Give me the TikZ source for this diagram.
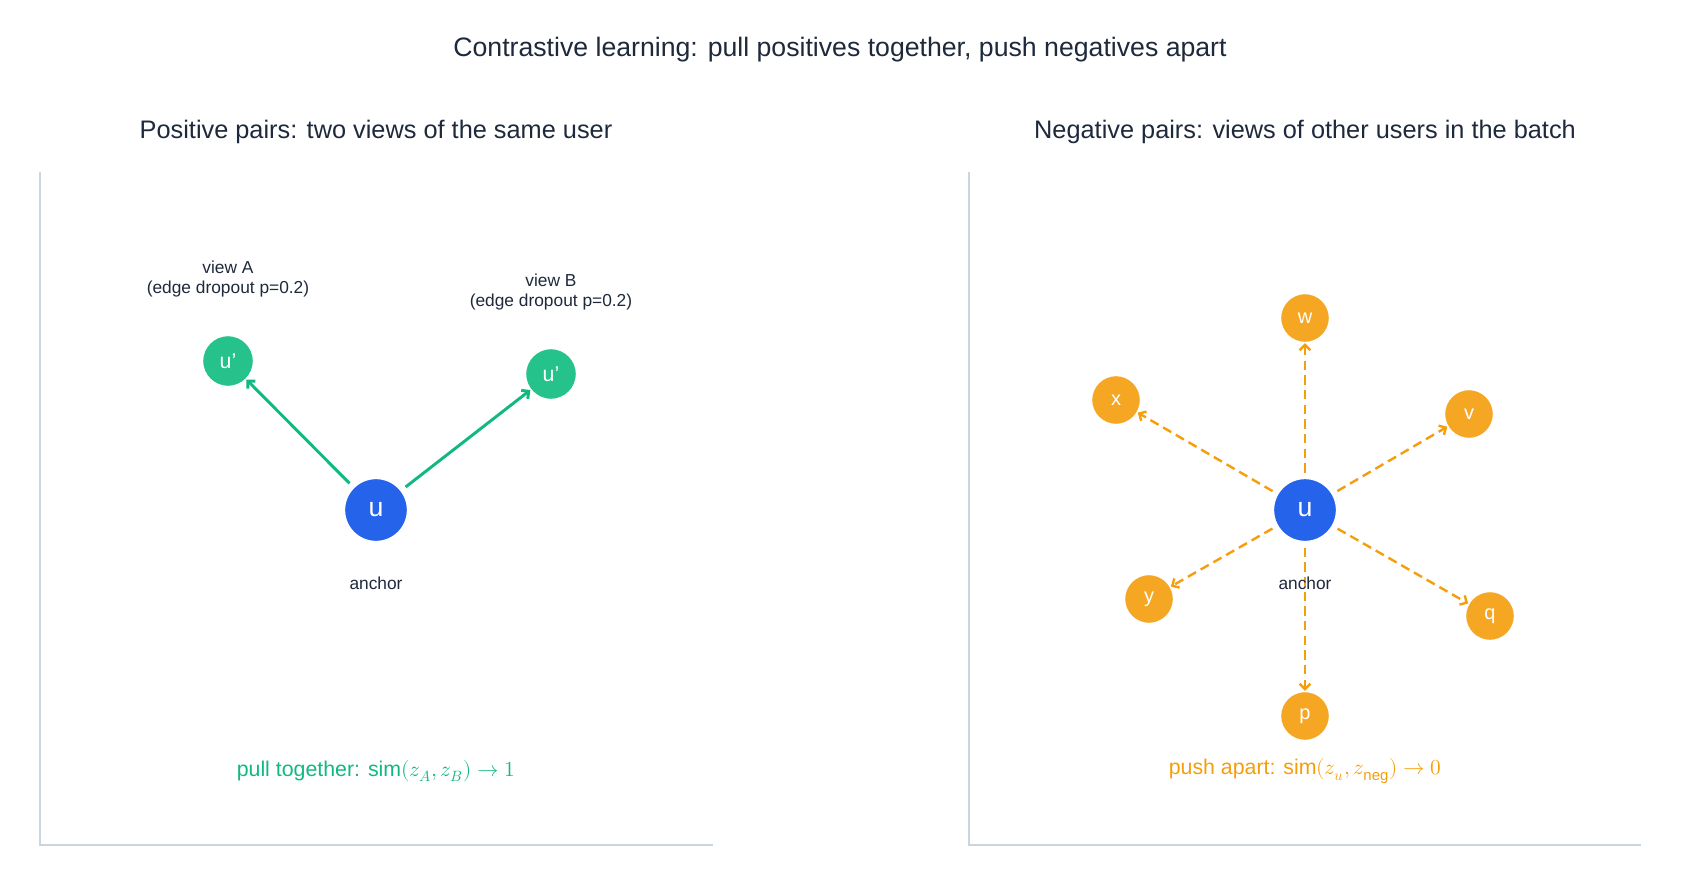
\documentclass[tikz,border=0pt]{standalone}
\usetikzlibrary{arrows.meta}
\usepackage{fontspec}
\setmainfont{Liberation Sans}
\usepackage{unicode-math}
\setmathfont{Latin Modern Math}
\definecolor{txt}{HTML}{1E293B}
\definecolor{frm}{HTML}{CBD5E1}
\definecolor{gr}{HTML}{10B981}
\definecolor{grn}{HTML}{25C28C}
\definecolor{bl}{HTML}{2563EB}
\definecolor{orn}{HTML}{F5A623}
\definecolor{ora}{HTML}{F59E0B}
\begin{document}
\begin{tikzpicture}[x=0.75pt,y=-0.75pt,
 ttl/.style={text=txt,font=\fontsize{19}{22}\selectfont},
 sub/.style={text=txt,font=\fontsize{13}{15}\selectfont,align=center},
 anc/.style={circle,fill=bl,draw=white,line width=1pt,minimum size=63*0.75pt,inner sep=0,text=white,font=\fontsize{20}{20}\selectfont},
 posn/.style={circle,fill=grn,draw=white,line width=1pt,minimum size=51*0.75pt,inner sep=0,text=white,font=\fontsize{16}{16}\selectfont},
 negn/.style={circle,fill=orn,draw=white,line width=1pt,minimum size=49*0.75pt,inner sep=0,text=white,font=\fontsize{15}{15}\selectfont},
 parr/.style={draw=gr,line width=2.2pt,-{Straight Barb[length=4pt]},shorten <=4pt},
 narr/.style={draw=ora,line width=1.8pt,dash pattern=on 7pt off 4pt,-{Straight Barb[length=4pt]},shorten <=4pt},
 frame/.style={draw=frm,line width=0.8pt}]
\useasboundingbox (0,0) rectangle (1681,885);
\node[ttl,font=\fontsize{20}{22}\selectfont] (title) at (840,50) {Contrastive learning: pull positives together, push negatives apart};
\node[ttl] (lt) at (376,132) {Positive pairs: two views of the same user};
\node[ttl] (rt) at (1305,132) {Negative pairs: views of other users in the batch};
\coordinate (l1) at (40,172); \coordinate (l2) at (40,845); \coordinate (l3) at (713,845);
\draw[frame] (l1) -- (l2) -- (l3);
\coordinate (r1) at (969,172); \coordinate (r2) at (969,845); \coordinate (r3) at (1641,845);
\draw[frame] (r1) -- (r2) -- (r3);
% left
\node[anc] (u) at (376,510) {u};
\node[posn] (a) at (228,361) {u'};
\node[posn] (b) at (551,374) {u'};
\node[sub] (la) at (228,279) {view A\\(edge dropout p=0.2)};
\node[sub] (lb) at (551,292) {view B\\(edge dropout p=0.2)};
\node[sub] (an1) at (376,583) {anchor};
\draw[parr] (u) -- (a);
\draw[parr] (u) -- (b);
\node[text=gr,font=\fontsize{16}{18}\selectfont] (pl) at (376,771) {pull together: $\mathrm{sim}(z_A,z_B)\to1$};
% right
\node[anc] (v0) at (1305,510) {u};
\node[negn] (w) at (1305,318) {w};
\node[negn] (x) at (1116,400) {x};
\node[negn] (v) at (1469,414) {v};
\node[negn] (y) at (1149,599) {y};
\node[negn] (q) at (1490,616) {q};
\node[negn] (p) at (1305,716) {p};
\foreach \t in {w,x,v,y,q,p} \draw[narr] (v0) -- (\t);
\node[sub] (an2) at (1305,583) {anchor};
\node[text=ora,font=\fontsize{16}{18}\selectfont] (pu) at (1305,771) {push apart: $\mathrm{sim}(z_u,z_{\mathrm{neg}})\to0$};
\end{tikzpicture}
\end{document}
